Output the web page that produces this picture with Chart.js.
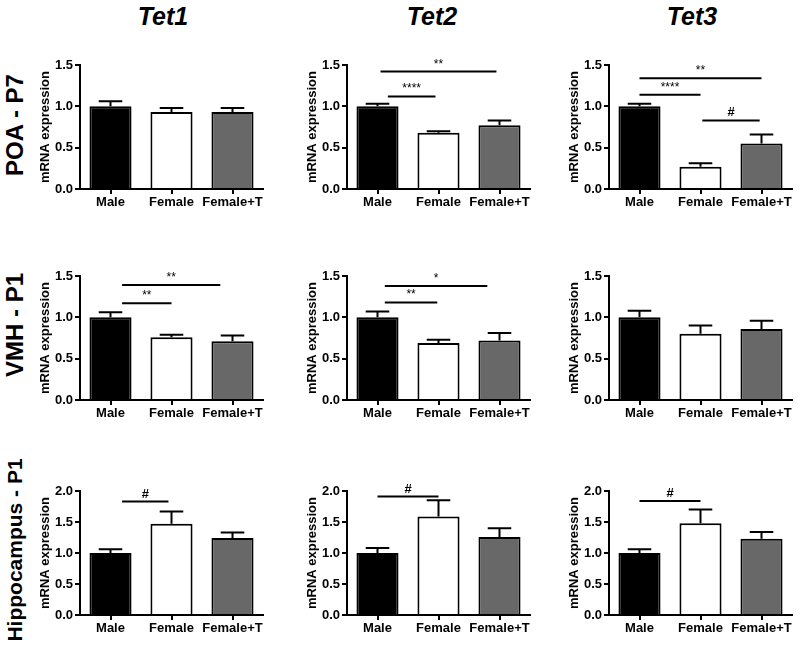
<!DOCTYPE html>
<html>
<head>
<meta charset="utf-8">
<script src="https://cdn.jsdelivr.net/npm/chart.js@4.4.1/dist/chart.umd.min.js"></script>
<style>
  body { margin: 0; background: #fff; }
  #wrap { position: relative; width: 800px; height: 650px; font-family: 'Liberation Sans', Arial, sans-serif; }
  canvas { position: absolute; }
  .col { position: absolute; transform: translate(-50%, -50%); font-weight: bold; font-style: italic; font-size: 25px; }
  .row { position: absolute; transform: translate(-50%, -50%) rotate(-90deg); font-weight: bold; white-space: nowrap; }
</style>
</head>
<body>
<div id="wrap"></div>
<script>
const groups = ['Male', 'Female', 'Female+T'];
const genes = ['Tet1', 'Tet2', 'Tet3'];
const regions = ['POA - P7', 'VMH - P1', 'Hippocampus - P1'];
const yMax = [1.5, 1.5, 2.0];

// means / SEM per gene, in group order
const poaMeans = [[1.0, 0.93, 0.93], [1.0, 0.68, 0.77], [1.0, 0.27, 0.55]];
const poaSem   = [[0.06, 0.05, 0.05], [0.03, 0.02, 0.06], [0.03, 0.04, 0.11]];
const vmhMeans = [[1.0, 0.76, 0.71], [1.0, 0.69, 0.72], [1.0, 0.80, 0.86]];
const vmhSem   = [[0.06, 0.03, 0.07], [0.07, 0.04, 0.09], [0.08, 0.10, 0.10]];
const hipMeans = [[1.0, 1.47, 1.24], [1.0, 1.59, 1.26], [1.0, 1.48, 1.23]];
const hipSem   = [[0.06, 0.20, 0.09], [0.08, 0.26, 0.14], [0.06, 0.22, 0.11]];

// significance bars: from/to in category index units, y in data units
const poaSig = [
  [],
  [{ from: 0.05, to: 1.95, y: 1.42, label: '**' }, { from: 0.17, to: 0.95, y: 1.12, label: '****' }],
  [{ from: 0, to: 2, y: 1.34, label: '**' }, { from: 0, to: 1, y: 1.14, label: '****' }, { from: 1.03, to: 1.97, y: 0.83, label: '#' }]
];
const vmhSig = [
  [{ from: 0.19, to: 1.8, y: 1.39, label: '**' }, { from: 0.19, to: 1.0, y: 1.17, label: '**' }],
  [{ from: 0.12, to: 1.8, y: 1.38, label: '*' }, { from: 0.12, to: 0.98, y: 1.18, label: '**' }],
  []
];
const hipSig = [
  [{ from: 0.19, to: 0.95, y: 1.83, label: '#' }],
  [{ from: 0, to: 1, y: 1.91, label: '#' }],
  [{ from: 0, to: 1, y: 1.84, label: '#' }]
];

const allMeans = [poaMeans, vmhMeans, hipMeans];
const allSem = [poaSem, vmhSem, hipSem];
const allSig = [poaSig, vmhSig, hipSig];

const barColors = ['#000000', '#ffffff', '#686868'];
const colAxisX = [80, 347, 609];
const rowTopY = [65, 276, 491];
const colTitleX = [163, 432, 692];
const rowLabelY = [125, 325, 550];
const rowLabelSize = [24, 24, 21];

Chart.defaults.font.family = "'Liberation Sans', Arial, sans-serif";
Chart.defaults.color = '#000';

const wrap = document.getElementById('wrap');

const errorBars = {
  id: 'errorBars',
  afterDatasetsDraw(chart) {
    const { ctx, scales: { x, y } } = chart;
    const ds = chart.data.datasets[0];
    const meta = chart.getDatasetMeta(0);
    ctx.save();
    ctx.strokeStyle = '#000';
    ctx.lineWidth = 2;
    meta.data.forEach((bar, i) => {
      const top = y.getPixelForValue(ds.data[i] + ds.sem[i]);
      const half = bar.width * 0.28;
      ctx.beginPath();
      ctx.moveTo(bar.x, bar.y);
      ctx.lineTo(bar.x, top);
      ctx.moveTo(bar.x - half, top);
      ctx.lineTo(bar.x + half, top);
      ctx.stroke();
    });
    ctx.fillStyle = '#000';
    ctx.textAlign = 'center';
    ctx.textBaseline = 'alphabetic';
    ds.sig.forEach(s => {
      const x1 = x.getPixelForValue(s.from);
      const x2 = x.getPixelForValue(s.to);
      const yy = y.getPixelForValue(s.y);
      ctx.beginPath();
      ctx.moveTo(x1, yy);
      ctx.lineTo(x2, yy);
      ctx.stroke();
      ctx.font = s.label === '#' ? "bold 13px 'Liberation Sans', Arial" : "12px 'Liberation Sans', Arial";
      ctx.fillText(s.label, (x1 + x2) / 2, yy - 4);
    });
    ctx.restore();
  }
};

genes.forEach((g, c) => {
  const t = document.createElement('div');
  t.className = 'col';
  t.style.left = colTitleX[c] + 'px';
  t.style.top = '16px';
  t.textContent = g;
  wrap.appendChild(t);
});

regions.forEach((name, r) => {
  const lab = document.createElement('div');
  lab.className = 'row';
  lab.style.left = '15px';
  lab.style.top = rowLabelY[r] + 'px';
  lab.style.fontSize = rowLabelSize[r] + 'px';
  lab.textContent = name;
  wrap.appendChild(lab);

  genes.forEach((g, c) => {
    const cv = document.createElement('canvas');
    cv.width = 232;
    cv.height = 164;
    cv.style.left = (colAxisX[c] - 45) + 'px';
    cv.style.top = (rowTopY[r] - 12) + 'px';
    wrap.appendChild(cv);

    new Chart(cv, {
      type: 'bar',
      data: {
        labels: groups,
        datasets: [{
          data: allMeans[r][c],
          sem: allSem[r][c],
          sig: allSig[r][c],
          backgroundColor: barColors,
          borderColor: '#000',
          borderWidth: 2,
          categoryPercentage: 1,
          barPercentage: 0.69
        }]
      },
      options: {
        responsive: false,
        animation: false,
        layout: { padding: { top: 12, right: 4, left: 0, bottom: 0 } },
        plugins: { legend: { display: false }, tooltip: { enabled: false } },
        scales: {
          x: {
            afterFit: s => { s.height = 28; },
            grid: { drawOnChartArea: false, offset: false, tickLength: 5, color: '#000', lineWidth: 2 },
            border: { color: '#000', width: 2 },
            ticks: { font: { size: 13, weight: 'bold' }, padding: 1, maxRotation: 0, autoSkip: false }
          },
          y: {
            min: 0,
            max: yMax[r],
            afterFit: s => { s.width = 45; },
            grid: { drawOnChartArea: false, tickLength: 5, color: '#000', lineWidth: 2 },
            border: { color: '#000', width: 2 },
            ticks: { stepSize: 0.5, font: { size: 13, weight: 'bold' }, padding: 2, callback: v => v.toFixed(1) },
            title: { display: true, text: 'mRNA expression', font: { size: 13, weight: 'bold' }, padding: { top: 3, bottom: 0 } }
          }
        }
      },
      plugins: [errorBars]
    });
  });
});
</script>
</body>
</html>
